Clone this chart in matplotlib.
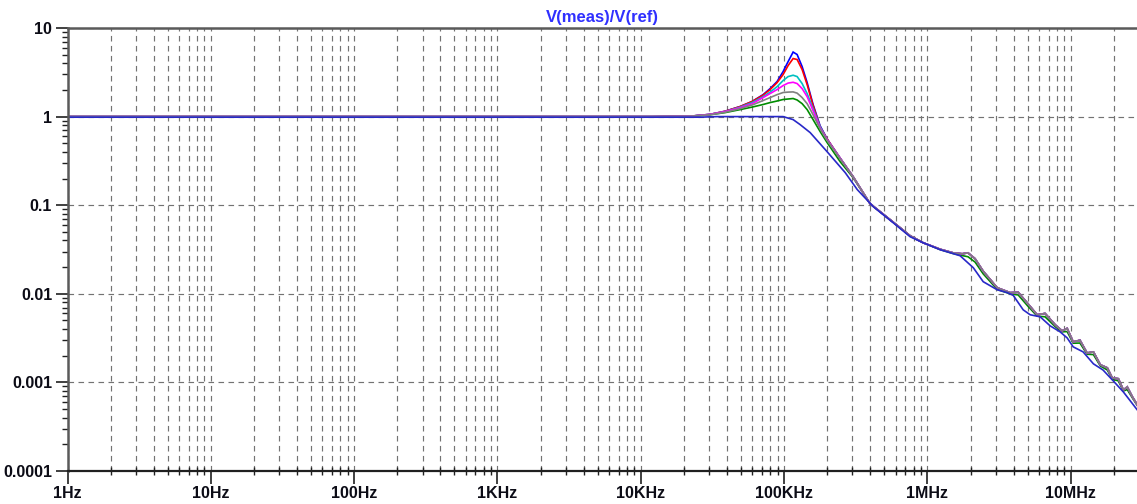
import matplotlib
matplotlib.use("Agg")
import matplotlib.pyplot as plt
from matplotlib.ticker import FixedLocator, LogLocator, NullFormatter

# ---- data: |V(meas)/V(ref)| for a stepped parameter sweep ----
x_tick_vals = [1, 10, 100, 1e3, 1e4, 1e5, 1e6, 1e7]
x_tick_labels = ["1Hz", "10Hz", "100Hz", "1KHz", "10KHz", "100KHz", "1MHz", "10MHz"]
y_tick_vals = [1e-4, 1e-3, 1e-2, 1e-1, 1, 10]
y_tick_labels = ["0.0001", "0.001", "0.01", "0.1", "1", "10"]

# flat pass band (shared by the resonant traces)
freq_low = [1.0, 12e3]
mag_low = [1.0, 1.0]

# resonance region
freq_res = [22.1e3, 30.5e3, 38.8e3, 49.4e3, 59.8e3, 71.4e3, 79.9e3, 89.4e3, 98.4e3,
            106.7e3, 115.6e3, 123.3e3, 133.6e3, 144.8e3, 159.3e3, 178.2e3,
            199.5e3, 246e3, 303e3]
mag_blue = [1.01, 1.06, 1.15, 1.30, 1.48, 1.77, 2.07, 2.49, 3.22, 4.18, 5.35, 5.02,
            3.67, 2.42, 1.37, 0.79, 0.56, 0.34, 0.21]
mag_red = [1.01, 1.06, 1.15, 1.30, 1.48, 1.75, 2.02, 2.42, 2.98, 3.77, 4.52, 4.41,
           3.40, 2.30, 1.33, 0.77, 0.56, 0.34, 0.21]
mag_cyan = [1.01, 1.06, 1.14, 1.28, 1.44, 1.68, 1.89, 2.18, 2.55, 2.83, 2.93, 2.83,
            2.36, 1.82, 1.23, 0.77, 0.55, 0.34, 0.21]
mag_magenta = [1.01, 1.06, 1.14, 1.26, 1.40, 1.64, 1.82, 2.02, 2.24, 2.39, 2.44, 2.36,
               2.07, 1.68, 1.17, 0.75, 0.55, 0.34, 0.21]
mag_gray = [1.01, 1.05, 1.12, 1.23, 1.35, 1.52, 1.64, 1.77, 1.87, 1.89, 1.90, 1.84,
            1.64, 1.40, 1.05, 0.73, 0.54, 0.335, 0.21]
mag_green = [1.01, 1.05, 1.11, 1.20, 1.28, 1.37, 1.44, 1.50, 1.56, 1.58, 1.60, 1.54,
             1.40, 1.20, 0.925, 0.68, 0.51, 0.31, 0.205]

# high-frequency roll-off with line ripple
freq_tail = [398e3, 549e3, 757e3, 933e3, 1.23e6, 1.51e6, 1.75e6, 1.92e6, 2.15e6,
             2.45e6, 3.07e6, 3.78e6, 4.30e6, 4.97e6, 5.83e6, 6.62e6, 7.80e6, 8.71e6,
             9.44e6, 10.4e6, 11.6e6, 13.0e6, 14.4e6, 16.1e6, 18.0e6, 19.5e6, 21.5e6,
             23.3e6, 24.8e6, 26.9e6, 29.1e6]
mag_tail = [0.104, 0.0686, 0.0452, 0.0377, 0.0318, 0.0290, 0.0283, 0.0290, 0.0249,
            0.0180, 0.0117, 0.0103, 0.0104, 0.0079, 0.0058, 0.0060, 0.00446, 0.00382,
            0.00407, 0.00287, 0.00299, 0.00215, 0.00221, 0.00158, 0.00146, 0.00112,
            0.00110, 0.00082, 0.00089, 0.00069, 0.00056]
mag_tail_green = [0.104, 0.0686, 0.0452, 0.0377, 0.0315, 0.0285, 0.0270, 0.0262, 0.0228,
                  0.0168, 0.0112, 0.0100, 0.0097, 0.0074, 0.0056, 0.0055, 0.00425,
                  0.00372, 0.00375, 0.00277, 0.00278, 0.00208, 0.00206, 0.00153,
                  0.00138, 0.00109, 0.00104, 0.00080, 0.00083, 0.00067, 0.00055]

# non-resonant (fully damped) trace
freq_damped = [1.0, 25.9e3, 34.1e3, 98.4e3, 115.6e3, 129.4e3, 152e3, 199.5e3, 267e3,
               324e3, 419e3, 577e3, 757e3, 933e3, 1.23e6, 1.45e6, 1.69e6, 2.09e6,
               2.45e6, 3.07e6, 3.61e6, 3.97e6, 4.66e6, 5.21e6, 6.12e6, 7.18e6, 8.43e6,
               9.44e6, 10.4e6, 12.2e6, 14.4e6, 16.8e6, 19.8e6, 23.3e6, 29.1e6]
mag_damped = [0.985, 0.985, 1.0, 1.0, 0.925, 0.812, 0.660, 0.402, 0.233, 0.150, 0.0962,
              0.0634, 0.0441, 0.0377, 0.0314, 0.0290, 0.0269, 0.0197, 0.0137, 0.0111,
              0.0103, 0.0096, 0.00659, 0.0058, 0.00550, 0.00435, 0.00372, 0.00318,
              0.00252, 0.00221, 0.00162, 0.00138, 0.00104, 0.00078, 0.00049]

traces = [
    ("#008c00", mag_green, mag_tail_green),
    ("#0000ff", mag_blue, mag_tail),
    ("#ff0000", mag_red, mag_tail),
    ("#00c0c0", mag_cyan, mag_tail),
    ("#ff00ff", mag_magenta, mag_tail),
    ("#808080", mag_gray, mag_tail),
]

plt.rcParams["font.family"] = ["Liberation Sans", "DejaVu Sans"]
plt.rcParams["lines.scale_dashes"] = False

W, H = 1137, 504
fig = plt.figure(figsize=(W / 100, H / 100), dpi=100)
ax_left, ax_right, ax_top, ax_bottom = 67.5, 1137.0, 28.0, 471.0
ax = fig.add_axes([ax_left / W, 1 - ax_bottom / H,
                   (ax_right - ax_left) / W, (ax_bottom - ax_top) / H])

ax.set_xscale("log")
ax.set_yscale("log")
ax.set_xlim(1, 29.0e6)
ax.set_ylim(1e-4, 10)

for color, mag_res, tail in traces:
    f = freq_low + freq_res + freq_tail
    m = mag_low + mag_res + tail
    ax.plot(f, m, color=color, lw=1.2, solid_joinstyle="miter")
ax.plot(freq_damped, mag_damped, color="#2828c8", lw=1.2)

# grid: vertical at every decade subdivision, horizontal at decades only
dash = (0, (4.0, 3.2))
ax.xaxis.set_major_locator(FixedLocator(x_tick_vals))
ax.xaxis.set_minor_locator(LogLocator(base=10, subs=range(2, 10), numticks=100))
ax.xaxis.set_minor_formatter(NullFormatter())
ax.set_xticklabels(x_tick_labels)
ax.yaxis.set_major_locator(FixedLocator(y_tick_vals))
ax.yaxis.set_minor_locator(LogLocator(base=10, subs=range(2, 10), numticks=100))
ax.yaxis.set_minor_formatter(NullFormatter())
ax.set_yticklabels(y_tick_labels)

ax.grid(True, which="both", axis="x", color="#737373", lw=0.85, linestyle=dash)
ax.grid(True, which="major", axis="y", color="#737373", lw=0.85, linestyle=dash)
ax.set_axisbelow(True)

text_color = "#0c0c16"
ax.tick_params(axis="x", which="major", direction="out", length=9, width=1.2,
               pad=1.5, labelsize=11.5, labelcolor=text_color, color="#202020")
ax.tick_params(axis="x", which="minor", direction="inout", length=6, width=1.0,
               color="#202020")
ax.tick_params(axis="y", which="major", direction="out", length=9, width=1.2,
               pad=2, labelsize=11.5, labelcolor=text_color, color="#202020")
ax.tick_params(axis="y", which="minor", direction="out", length=4, width=1.0,
               color="#202020")
for lab in ax.get_xticklabels() + ax.get_yticklabels():
    lab.set_fontweight("bold")

for side in ("top", "left"):
    ax.spines[side].set_color("#5a5a5a")
    ax.spines[side].set_linewidth(1.8)
ax.spines["bottom"].set_color("#202020")
ax.spines["bottom"].set_linewidth(1.6)
ax.spines["right"].set_visible(False)

ax.set_title("V(meas)/V(ref)", color="#3030ff", fontsize=12, fontweight="bold", pad=4)

fig.savefig("out.png", dpi=100)
